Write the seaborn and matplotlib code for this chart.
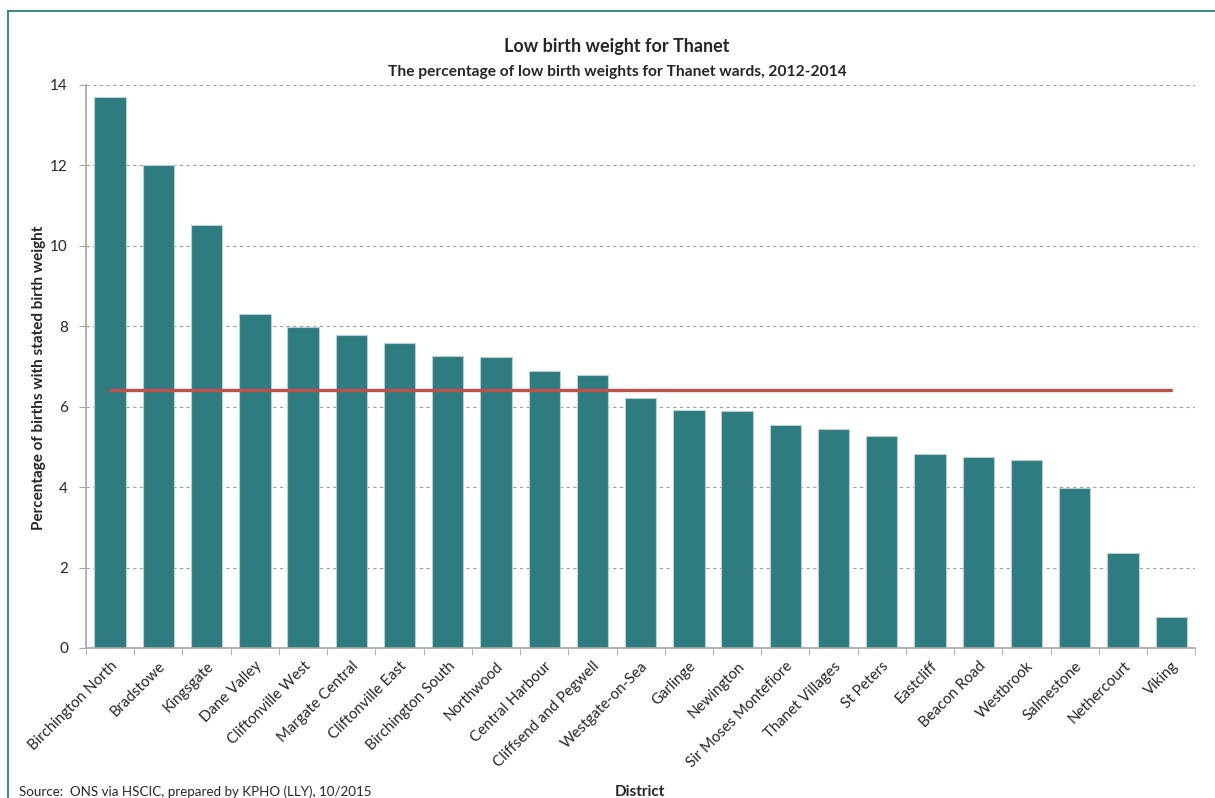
import pandas as pd
import matplotlib.pyplot as plt
import seaborn as sns
from matplotlib.patches import Rectangle

# Data
districts = ['Birchington North', 'Bradstowe', 'Kingsgate', 'Dane Valley', 'Cliftonville West',
             'Margate Central', 'Cliftonville East', 'Birchington South', 'Northwood',
             'Central Harbour', 'Cliffsend and Pegwell', 'Westgate-on-Sea', 'Garlinge',
             'Newington', 'Sir Moses Montefiore', 'Thanet Villages', 'St Peters', 'Eastcliff',
             'Beacon Road', 'Westbrook', 'Salmestone', 'Nethercourt', 'Viking']
pct_low_bw = [13.7, 12.0, 10.52, 8.31, 7.98, 7.78, 7.59, 7.26, 7.23, 6.89, 6.79, 6.22, 5.92,
              5.90, 5.54, 5.45, 5.26, 4.82, 4.75, 4.68, 3.98, 2.37, 0.76]
thanet_avg = 6.42
yticks = [0, 2, 4, 6, 8, 10, 12, 14]

df = pd.DataFrame({'district': districts, 'pct': pct_low_bw})

sns.set_style('white')
plt.rcParams['font.family'] = ['Lato', 'DejaVu Sans']

fig = plt.figure(figsize=(12.15, 7.98), dpi=100)
ax = fig.add_axes([0.0708, 0.188, 0.913, 0.7055])

sns.barplot(data=df, x='district', y='pct', color='#2E7B80', saturation=1, width=0.65,
            edgecolor='#B9CFD1', linewidth=0.8, ax=ax, zorder=2)
pos = list(range(len(districts)))
sns.lineplot(x=pos, y=[thanet_avg] * len(districts), color='#C0504D', linewidth=2.4,
             ax=ax, zorder=3)

ax.set_ylim(0, 14)
ax.set_xlim(-0.5, len(districts) - 0.5)
ax.set_yticks(yticks)
ax.set_yticklabels([str(t) for t in yticks], fontsize=11)
ax.yaxis.grid(True, linestyle=(0, (3, 3)), color='#A0A0A0', linewidth=0.8)
ax.set_axisbelow(True)

ax.set_xticks(pos)
ax.set_xticklabels(districts, rotation=45, ha='right', rotation_mode='anchor', fontsize=10.8)
ax.set_xticks([p - 0.5 for p in pos] + [len(districts) - 0.5], minor=True)
ax.tick_params(axis='x', which='major', length=0, pad=8)
ax.tick_params(axis='x', which='minor', length=5, color='#A6A6A6', bottom=True)
ax.tick_params(axis='y', length=5, color='#A6A6A6', left=True, pad=8)

for s in ['top', 'right']:
    ax.spines[s].set_visible(False)
for s in ['left', 'bottom']:
    ax.spines[s].set_color('#A6A6A6')
    ax.spines[s].set_linewidth(1.2)

ax.set_xlabel('')
ax.set_ylabel('Percentage of births with stated birth weight', fontsize=11, fontweight='bold')
ax.yaxis.set_label_coords(-0.036, 0.48)

fig.text(0.508, 0.935, 'Low birth weight for Thanet', ha='center', fontsize=13,
         fontweight='bold')
fig.text(0.508, 0.918, 'The percentage of low birth weights for Thanet wards, 2012-2014',
         ha='center', va='top', fontsize=11.2, fontweight='bold')
fig.text(0.016, 0.002, 'Source:  ONS via HSCIC, prepared by KPHO (LLY), 10/2015', fontsize=9.6)
fig.text(0.527, 0.002, 'District', ha='center', fontsize=11, fontweight='bold')

# outer chart frame (cut off at right and bottom like the original)
fig.patches.append(Rectangle((0.0066, -0.05), 1.05, 1.036, transform=fig.transFigure,
                             fill=False, edgecolor='#3E8A8F', linewidth=1.5))

fig.savefig('out.png', dpi=100)
